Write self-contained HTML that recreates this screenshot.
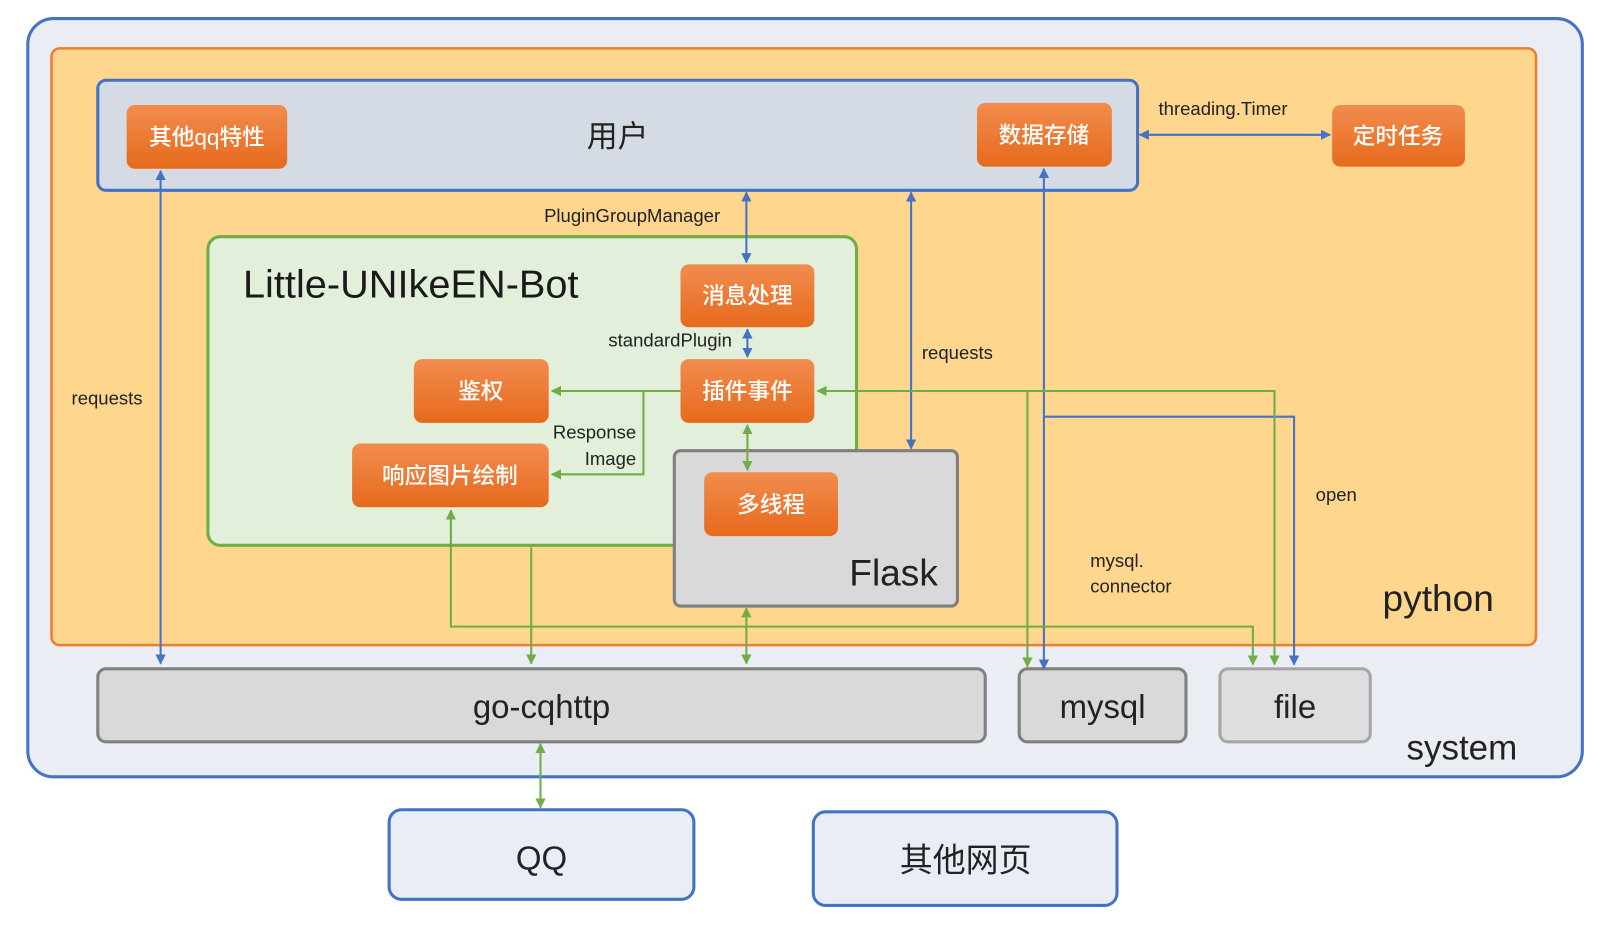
<!DOCTYPE html>
<html><head><meta charset="utf-8"><style>
html,body{margin:0;padding:0;background:#fff;}
svg{display:block;}
text{font-family:"Liberation Sans","Noto Sans CJK SC",sans-serif;}
</style></head><body>
<svg width="1606" height="925" viewBox="0 0 1560 899" preserveAspectRatio="none" xmlns="http://www.w3.org/2000/svg">
<defs>
<linearGradient id="og" x1="0" y1="0" x2="0" y2="1"><stop offset="0" stop-color="#f28c4f"/><stop offset="1" stop-color="#e66a1c"/></linearGradient>
<marker id="ab" viewBox="0 0 10 10" refX="9" refY="5" markerWidth="5" markerHeight="5" orient="auto-start-reverse"><path d="M0,0L10,5L0,10z" fill="#4472c4"/></marker>
<marker id="ag" viewBox="0 0 10 10" refX="9" refY="5" markerWidth="5" markerHeight="5" orient="auto-start-reverse"><path d="M0,0L10,5L0,10z" fill="#70ad47"/></marker>
</defs>
<rect x="27" y="18" width="1510" height="737" rx="25" fill="#eaedf3" stroke="#4472c4" stroke-width="3"/>
<rect x="50" y="47" width="1442" height="580" rx="8" fill="#fed68e" stroke="#ed7d31" stroke-width="2.5"/>
<rect x="95" y="78" width="1010" height="107" rx="8" fill="#d5dbe5" stroke="#4472c4" stroke-width="3"/>
<rect x="202" y="230" width="630" height="300" rx="12" fill="#e2efda" stroke="#70ad47" stroke-width="3"/>
<rect x="655" y="438" width="275" height="151" rx="6" fill="#d9d9d9" stroke="#7f7f7f" stroke-width="3"/>
<rect x="95" y="650" width="862" height="71" rx="8" fill="#d9d9d9" stroke="#808080" stroke-width="3"/>
<rect x="990" y="650" width="162" height="71" rx="8" fill="#d9d9d9" stroke="#808080" stroke-width="3"/>
<rect x="1185" y="650" width="146" height="71" rx="8" fill="#dedede" stroke="#a6a6a6" stroke-width="3"/>
<rect x="378" y="787" width="296" height="87" rx="12" fill="#e9eef6" stroke="#4472c4" stroke-width="3"/>
<rect x="790" y="789" width="295" height="91" rx="12" fill="#e9eef6" stroke="#4472c4" stroke-width="3"/>
<g fill="url(#og)">
<rect x="123" y="102" width="156" height="62" rx="8"/>
<rect x="949" y="100" width="131" height="62" rx="8"/>
<rect x="1294" y="102" width="129" height="60" rx="8"/>
<rect x="661" y="257" width="130" height="61" rx="8"/>
<rect x="661" y="349" width="130" height="62" rx="8"/>
<rect x="402" y="349" width="131" height="62" rx="8"/>
<rect x="342" y="431" width="191" height="62" rx="8"/>
<rect x="684" y="459" width="130" height="62" rx="8"/>
</g>
<g stroke="#4472c4" stroke-width="2" fill="none" marker-start="url(#ab)" marker-end="url(#ab)">
<line x1="156" y1="166" x2="156" y2="645"/>
<line x1="725" y1="187" x2="725" y2="255"/>
<line x1="726" y1="320" x2="726" y2="347"/>
<line x1="885" y1="187" x2="885" y2="436"/>
<line x1="1014" y1="164" x2="1014" y2="650"/>
<line x1="1107" y1="131" x2="1292" y2="131"/>
</g>
<polyline points="1014,405 1257,405 1257,646" stroke="#4472c4" stroke-width="2" fill="none" marker-end="url(#ab)"/>
<g stroke="#70ad47" stroke-width="2" fill="none">
<polyline points="661,380 536,380" marker-end="url(#ag)"/>
<polyline points="625,380 625,461 536,461" marker-end="url(#ag)"/>
<line x1="726" y1="413" x2="726" y2="457" marker-start="url(#ag)" marker-end="url(#ag)"/>
<polyline points="1238,646 1238,380 794,380" marker-start="url(#ag)" marker-end="url(#ag)"/>
<polyline points="998,380 998,648" marker-end="url(#ag)"/>
<polyline points="438,496 438,609 1217,609 1217,646" marker-start="url(#ag)" marker-end="url(#ag)"/>
<line x1="516" y1="532" x2="516" y2="645" marker-end="url(#ag)"/>
<line x1="725" y1="591" x2="725" y2="645" marker-start="url(#ag)" marker-end="url(#ag)"/>
<line x1="525" y1="723" x2="525" y2="785" marker-start="url(#ag)" marker-end="url(#ag)"/>
</g>
<g fill="#fff" font-size="22" text-anchor="middle" font-weight="500">
<text x="201" y="141">其他qq特性</text>
<text x="1014" y="139">数据存储</text>
<text x="1358" y="140">定时任务</text>
<text x="726" y="295">消息处理</text>
<text x="726" y="388">插件事件</text>
<text x="467" y="388">鉴权</text>
<text x="437" y="470">响应图片绘制</text>
<text x="749" y="498">多线程</text>
</g>
<g fill="#222" text-anchor="middle">
<text x="600" y="143" font-size="30">用户</text>
<text x="236" y="289" font-size="38" fill="#1a1a1a" text-anchor="start" textLength="326" lengthAdjust="spacingAndGlyphs">Little-UNIkeEN-Bot</text>
<text x="868" y="569" font-size="36">Flask</text>
<text x="526" y="698" font-size="32">go-cqhttp</text>
<text x="1071" y="698" font-size="32">mysql</text>
<text x="1258" y="698" font-size="32">file</text>
<text x="526" y="845" font-size="32">QQ</text>
<text x="938" y="847" font-size="32">其他网页</text>
<text x="1397" y="594" font-size="36">python</text>
<text x="1420" y="738" font-size="34">system</text>
</g>
<g fill="#222" font-size="18">
<text x="104" y="393" text-anchor="middle">requests</text>
<text x="614" y="216" text-anchor="middle">PluginGroupManager</text>
<text x="711" y="337" text-anchor="end">standardPlugin</text>
<text x="618" y="426" text-anchor="end">Response</text>
<text x="618" y="452" text-anchor="end">Image</text>
<text x="930" y="349" text-anchor="middle">requests</text>
<text x="1188" y="112" text-anchor="middle">threading.Timer</text>
<text x="1298" y="487" text-anchor="middle">open</text>
<text x="1059" y="551">mysql.</text>
<text x="1059" y="576">connector</text>
</g>
</svg>
</body></html>
